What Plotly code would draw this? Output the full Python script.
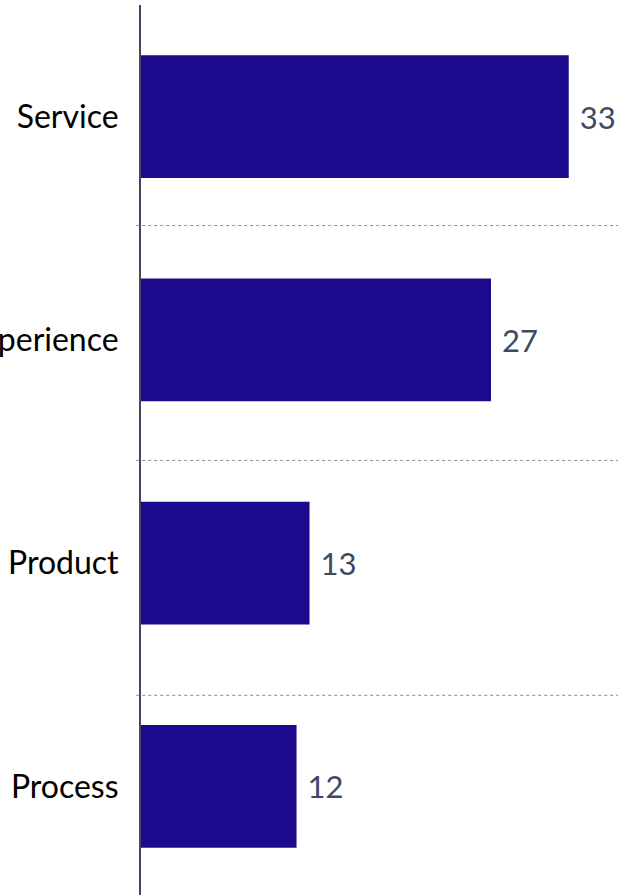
import plotly.graph_objects as go

categories = ["Service", "Experience", "Product", "Process"]
values = [33, 27, 13, 12]
value_labels = ["33", "27", "13", "12"]

fig = go.Figure(
    go.Bar(
        x=values,
        y=categories,
        orientation="h",
        marker=dict(color="#1b0a8c", line=dict(width=0)),
        text=value_labels,
        texttemplate="\u00a0%{text}",
        textposition="outside",
        textfont=dict(family="Lato", size=31, color="#404863"),
        cliponaxis=False,
    )
)

fig.update_layout(
    width=618,
    height=898,
    margin=dict(l=141, r=0, t=5, b=0),
    paper_bgcolor="white",
    plot_bgcolor="white",
    bargap=0.45,
    showlegend=False,
    font=dict(family="Lato", size=30, color="black"),
    xaxis=dict(range=[0, 36.8], visible=False, fixedrange=True),
    yaxis=dict(
        autorange="reversed",
        showline=True,
        linecolor="#404863",
        linewidth=2,
        showgrid=False,
        ticks="",
        ticklabelstandoff=14,
        tickfont=dict(family="Lato", size=32, color="black"),
        automargin=False,
        fixedrange=True,
    ),
)

for yp in [0.753, 0.490, 0.227]:
    fig.add_shape(
        type="line", xref="paper", yref="paper",
        x0=-0.01, x1=1, y0=yp, y1=yp,
        line=dict(color="#888888", width=1, dash="dot"),
    )

fig.write_html(
    "out.html",
    config={"displayModeBar": False},
    post_script="document.body.style.margin='0';document.body.style.overflow='hidden';",
)
